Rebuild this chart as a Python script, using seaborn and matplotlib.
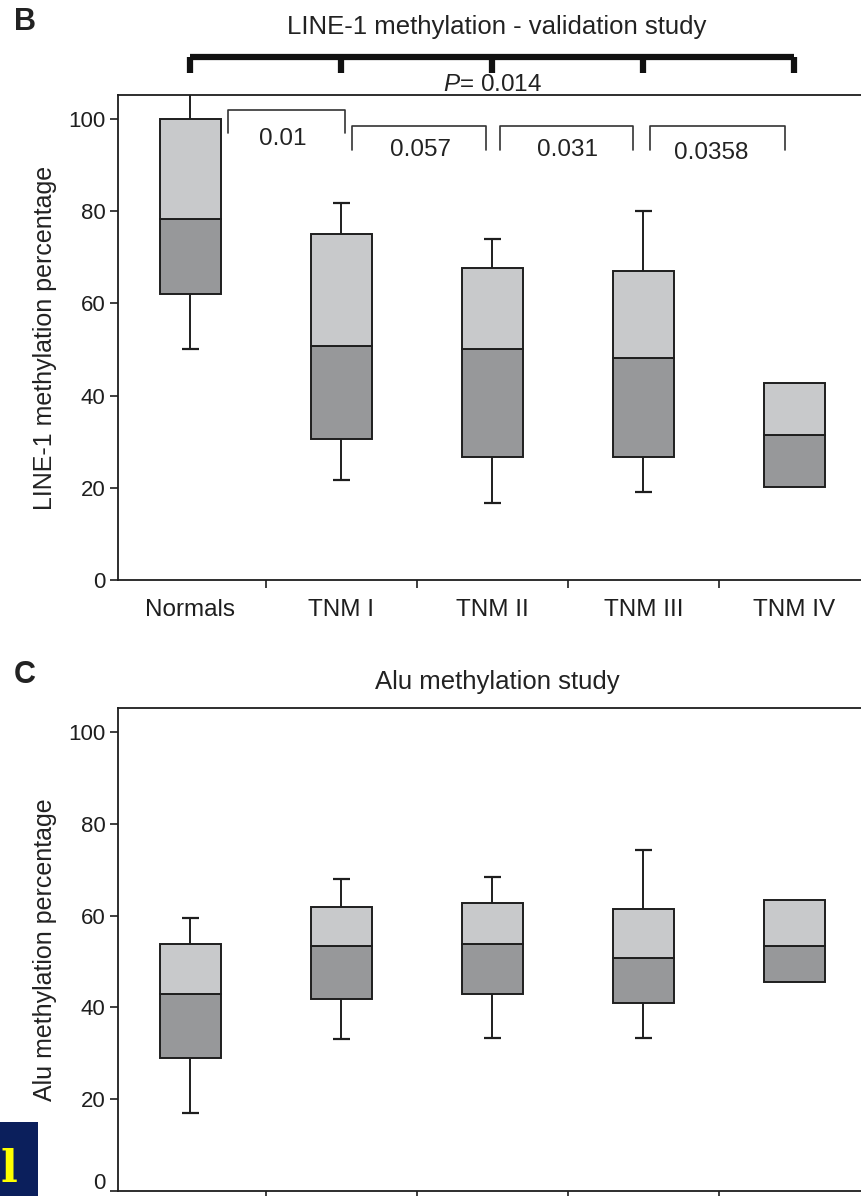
import numpy as np
import pandas as pd
import seaborn as sns
import matplotlib.pyplot as plt
import matplotlib.transforms as mtransforms
from matplotlib.patches import Rectangle

groups = ["Normals", "TNM I", "TNM II", "TNM III", "TNM IV"]

# LINE-1 validation study (panel B): whisker ends, quartiles, median
line1_low = [50.1, 21.7, 16.7, 19.1, np.nan]
line1_q1 = [62.0, 30.6, 26.7, 26.7, 20.2]
line1_med = [78.3, 50.8, 50.1, 48.2, 31.5]
line1_q3 = [100.0, 75.0, 67.7, 67.0, 42.7]
line1_high = [108.0, 81.8, 74.0, 80.0, np.nan]

# Alu study (panel C)
alu_low = [17.0, 33.0, 33.4, 33.4, np.nan]
alu_q1 = [29.0, 41.9, 43.0, 41.0, 45.6]
alu_med = [43.0, 53.3, 53.7, 50.7, 53.3]
alu_q3 = [53.7, 61.8, 62.7, 61.4, 63.3]
alu_high = [59.4, 67.9, 68.3, 74.2, np.nan]

pair_p = ["0.01", "0.057", "0.031", "0.0358"]
overall_p = "0.014"

DARK = "#97989a"
LIGHT = "#c8c9cb"
EDGE = "#1e1e1e"

sns.set_theme(style="ticks", rc={
    "axes.edgecolor": EDGE,
    "axes.linewidth": 1.3,
    "xtick.color": EDGE,
    "ytick.color": EDGE,
    "text.color": "#222222",
    "axes.labelcolor": "#222222",
})
plt.rcParams["font.family"] = ["Liberation Sans", "DejaVu Sans"]
plt.rcParams["mathtext.fontset"] = "custom"
plt.rcParams["mathtext.it"] = "Liberation Sans:italic"
plt.rcParams["mathtext.rm"] = "Liberation Sans"

W, H = 862, 1196
fig = plt.figure(figsize=(W / 100, H / 100), dpi=100)


def px_axes(left, top, right, bottom):
    return fig.add_axes([left / W, 1 - bottom / H, (right - left) / W, (bottom - top) / H])


def draw_panel(ax, low, q1, med, q3, high, ylabel, show_xlabels=True):
    df = pd.DataFrame({"group": groups, "low": low, "q1": q1, "med": med,
                       "q3": q3, "high": high})
    df["lower"] = df["med"] - df["q1"]
    df["upper"] = df["q3"] - df["med"]
    pos = np.arange(len(groups))

    ax.vlines(pos, df["q3"], df["high"], color=EDGE, lw=1.4, zorder=1)
    ax.vlines(pos, df["low"], df["q1"], color=EDGE, lw=1.4, zorder=1)
    ax.hlines(df["high"], pos - 0.055, pos + 0.055, color=EDGE, lw=1.6, zorder=1)
    ax.hlines(df["low"], pos - 0.055, pos + 0.055, color=EDGE, lw=1.6, zorder=1)

    sns.barplot(data=df, x="group", y="lower", bottom=df["q1"].to_numpy(),
                color=DARK, saturation=1, width=0.4, errorbar=None,
                edgecolor=EDGE, linewidth=1.4, ax=ax, zorder=2)
    sns.barplot(data=df, x="group", y="upper", bottom=df["med"].to_numpy(),
                color=LIGHT, saturation=1, width=0.4, errorbar=None,
                edgecolor=EDGE, linewidth=1.4, ax=ax, zorder=2)

    ax.set_xlim(-0.48, 4.5)
    ax.set_ylim(0, 105.2)
    ax.set_yticks([0, 20, 40, 60, 80, 100])
    ax.tick_params(axis="y", labelsize=16, length=6, width=1.2, pad=3)
    ax.set_xticks(pos)
    ax.set_xticklabels(groups)
    ax.tick_params(axis="x", which="major", length=0, labelsize=17.5, pad=14,
                   labelbottom=show_xlabels)
    ax.set_xticks(pos[:-1] + 0.5, minor=True)
    ax.tick_params(axis="x", which="minor", length=6, width=1.2)
    ax.set_xlabel("")
    ax.set_ylabel(ylabel, fontsize=18, labelpad=8)
    ax.spines["right"].set_visible(False)


axB = px_axes(118, 95, 870, 580)
draw_panel(axB, line1_low, line1_q1, line1_med, line1_q3, line1_high,
           "LINE-1 methylation percentage")

# panel C runs off the bottom of the page, its group labels are not visible
axC = px_axes(118, 708, 870, 1191)
draw_panel(axC, alu_low, alu_q1, alu_med, alu_q3, alu_high,
           "Alu methylation percentage", show_xlabels=False)
# keep the "0" label of panel C inside the page
zero_lab = axC.get_yticklabels()[0]
zero_lab.set_transform(zero_lab.get_transform()
                       + mtransforms.ScaledTranslation(0, 10 / 100, fig.dpi_scale_trans))

# overall bracket above panel B
pos = np.arange(len(groups))
axB.plot([pos[0], pos[-1]], [113.4, 113.4], color="#111111", lw=4.5,
         clip_on=False, solid_capstyle="butt")
axB.vlines(pos, 110.0, 113.4, color="#111111", lw=4.5, clip_on=False)
axB.text(2, 107.3, "$P$= " + overall_p, ha="center", va="center", fontsize=17.5)

# pairwise brackets
br_x0 = [0.25, 1.07, 2.05, 3.04]
br_x1 = [1.02, 1.96, 2.93, 3.94]
br_top = [102.0, 98.5, 98.5, 98.5]
br_bot = [97.0, 93.3, 93.3, 93.3]
txt_x = [0.61, 1.52, 2.5, 3.45]
txt_y = [95.6, 93.3, 93.3, 92.6]
for x0, x1, yt, yb, tx, ty, lab in zip(br_x0, br_x1, br_top, br_bot, txt_x, txt_y, pair_p):
    axB.plot([x0, x0, x1, x1], [yb, yt, yt, yb], color="#333333", lw=1.2)
    axB.text(tx, ty, lab, ha="center", va="center", fontsize=17.5)

fig.text(497 / W, 1 - 27 / H, "LINE-1 methylation - validation study",
         ha="center", va="center", fontsize=18.5)
fig.text(497 / W, 1 - 682 / H, "Alu methylation study",
         ha="center", va="center", fontsize=18.5)
fig.text(25 / W, 1 - 22 / H, "B", ha="center", va="center", fontsize=22,
         fontweight="bold")
fig.text(25 / W, 1 - 675 / H, "C", ha="center", va="center", fontsize=22,
         fontweight="bold")

# blue corner overlay from the source page
fig.patches.append(Rectangle((0, 0), 38 / W, 74 / H, transform=fig.transFigure,
                             facecolor="#0b1f5c", edgecolor="none", zorder=5))
fig.text(9 / W, 1 - 1170 / H, "l", color="#ffff00", fontsize=32,
         family="DejaVu Serif", fontweight="bold", ha="center", va="center",
         zorder=6)

fig.savefig("out.png", dpi=100)
